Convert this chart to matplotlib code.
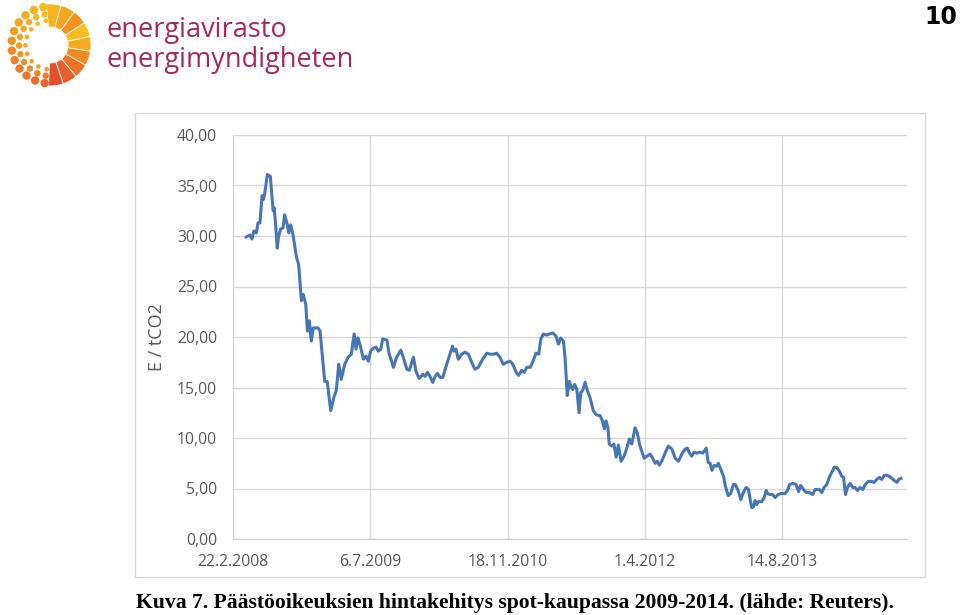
import numpy as np
import pandas as pd
import matplotlib
matplotlib.use("Agg")
from matplotlib import pyplot as plt
from matplotlib.colors import to_rgb
from matplotlib.patches import Wedge, Circle, Rectangle
from matplotlib.ticker import FuncFormatter

# spot price of emission allowances, EUR / tCO2
start_date = "2008-02-22"
day_offset = [
    48, 61, 69, 76, 85, 91, 98, 106, 110, 115, 125, 136, 146, 150, 156, 161, 166, 174,
    182, 188, 197, 203, 210, 218, 231, 239, 249, 256, 265, 271, 278, 285, 292, 310, 317,
    334, 343, 356, 367, 376, 385, 394, 407, 419, 431, 441, 448, 455, 462, 475, 484, 493,
    501, 511, 521, 529, 538, 545, 560, 569, 584, 596, 611, 620, 633, 642, 657, 666, 678,
    691, 699, 708, 717, 727, 736, 744, 754, 764, 778, 790, 799, 805, 812, 820, 833, 845,
    857, 869, 881, 893, 909, 924, 936, 950, 960, 972, 984, 997, 1009, 1019, 1031, 1040,
    1051, 1060, 1070, 1082, 1091, 1103, 1113, 1121, 1130, 1142, 1152, 1164, 1176, 1185,
    1193, 1203, 1209, 1217, 1225, 1231, 1237, 1244, 1252, 1260, 1266, 1273, 1282, 1290,
    1300, 1312, 1322, 1337, 1345, 1352, 1358, 1365, 1370, 1379, 1387, 1395, 1403, 1413,
    1424, 1434, 1443, 1452, 1464, 1472, 1480, 1488, 1497, 1507, 1519, 1528, 1537, 1545,
    1552, 1561, 1573, 1585, 1598, 1610, 1622, 1634, 1646, 1654, 1662, 1670, 1679, 1689,
    1701, 1710, 1723, 1730, 1737, 1744, 1752, 1761, 1767, 1776, 1786, 1793, 1803, 1812,
    1822, 1829, 1839, 1849, 1858, 1868, 1877, 1883, 1889, 1895, 1901, 1907, 1913, 1925,
    1934, 1941, 1947, 1956, 1965, 1974, 1984, 1995, 2010, 2019, 2026, 2038, 2050, 2059,
    2067, 2077, 2087, 2099, 2111, 2119, 2128, 2135, 2144, 2152, 2162, 2171, 2180, 2189,
    2198, 2208, 2217, 2223, 2230, 2237, 2247, 2257, 2265, 2274, 2283, 2293, 2302, 2313,
    2326, 2334, 2344, 2354, 2362, 2371, 2381, 2390, 2399, 2407, 2417, 2424, 2432,
]
price = [
    29.9, 30.1, 29.7, 30.5, 30.3, 31.3, 31.3, 34.0, 33.6, 34.1, 36.1, 35.9, 32.5, 32.8,
    30.8, 28.8, 30.0, 30.7, 30.8, 32.1, 31.2, 30.3, 31.1, 30.2, 27.9, 27.2, 23.6, 24.2,
    23.2, 20.6, 21.6, 19.6, 20.9, 20.9, 20.6, 15.6, 15.6, 12.7, 14.0, 14.7, 17.3, 15.8,
    17.3, 18.0, 18.3, 20.3, 18.8, 19.9, 19.3, 17.8, 18.1, 17.6, 18.6, 18.9, 19.0, 18.6,
    18.8, 19.8, 19.7, 18.3, 17.0, 18.0, 18.7, 18.0, 16.8, 16.7, 18.0, 16.6, 15.9, 16.3,
    16.1, 16.5, 16.1, 15.5, 16.1, 16.4, 16.0, 16.0, 17.3, 18.3, 19.1, 18.6, 18.8, 17.8,
    18.3, 18.5, 18.3, 17.5, 16.8, 17.0, 17.8, 18.4, 18.3, 18.3, 18.4, 18.0, 17.3, 17.5,
    17.6, 17.3, 16.5, 16.2, 16.7, 16.5, 17.0, 17.0, 17.5, 18.4, 18.3, 19.8, 20.3, 20.2,
    20.3, 20.4, 20.1, 19.3, 19.9, 19.6, 18.0, 14.2, 15.6, 15.0, 14.8, 15.3, 14.8, 12.5,
    14.5, 14.7, 15.5, 14.7, 14.0, 12.7, 12.3, 12.2, 11.7, 10.9, 11.7, 11.0, 9.4, 9.2,
    9.4, 8.1, 9.3, 7.7, 8.2, 9.0, 9.9, 9.4, 11.0, 10.5, 9.4, 8.7, 8.0, 8.2, 8.4, 8.0,
    7.5, 7.7, 7.3, 7.7, 8.5, 9.2, 8.9, 8.0, 7.7, 8.4, 8.9, 9.0, 8.5, 8.2, 8.6, 8.5,
    8.6, 8.5, 9.0, 7.6, 7.5, 6.8, 7.3, 7.2, 7.5, 6.9, 6.2, 5.2, 4.3, 4.5, 5.4, 5.4,
    4.8, 3.9, 4.6, 5.1, 4.9, 3.9, 3.1, 3.2, 3.8, 3.4, 3.7, 3.7, 4.1, 4.8, 4.5, 4.4,
    4.4, 4.1, 4.4, 4.5, 4.5, 4.8, 5.4, 5.5, 5.4, 4.7, 5.3, 4.9, 4.6, 4.6, 4.4, 4.9,
    4.9, 4.9, 4.6, 5.1, 5.4, 6.1, 6.6, 7.1, 7.1, 6.7, 6.2, 6.1, 4.4, 5.1, 5.5, 5.1,
    5.1, 4.8, 5.1, 4.9, 5.4, 5.7, 5.7, 5.6, 5.9, 6.1, 5.9, 6.3, 6.3, 6.2, 6.0, 5.8,
    5.6, 5.9, 6.0,
]
tick_step_days = 500
axis_end_days = 2454
y_ticks = [0, 5, 10, 15, 20, 25, 30, 35, 40]

caption = "Kuva 7. Päästöoikeuksien hintakehitys spot-kaupassa 2009-2014. (lähde: Reuters)."
page_no = "10"

W, H = 960, 615
fig = plt.figure(figsize=(W / 100, H / 100), dpi=100)
fig.patch.set_facecolor("white")


def fx(px):
    return px / W


def fy(py):
    return 1 - py / H


# chart area border
fig.add_artist(Rectangle((fx(135), fy(577)), fx(925 - 135), (577 - 113) / H,
                         transform=fig.transFigure, fill=False,
                         edgecolor="#D9D9D9", linewidth=1))

t0 = pd.Timestamp(start_date)
dates = t0 + pd.to_timedelta(day_offset, unit="D")

ax = fig.add_axes([fx(233), fy(539), fx(907 - 233), (539 - 135) / H])
ax.plot(dates, price, color="#4676B3", linewidth=2.2, solid_joinstyle="round")

ax.set_xlim(t0, t0 + pd.Timedelta(days=axis_end_days))
ax.set_ylim(0, 40)
xt = [t0 + pd.Timedelta(days=k * tick_step_days) for k in range(5)]
ax.set_xticks(xt)
ax.set_xticklabels([f"{d.day}.{d.month}.{d.year}" for d in xt])
ax.set_yticks(y_ticks)
ax.yaxis.set_major_formatter(FuncFormatter(lambda v, p: f"{v:.2f}".replace(".", ",")))

ax.grid(True, color="#D9D9D9", linewidth=1)
ax.set_axisbelow(True)
for s in ["top", "right", "left"]:
    ax.spines[s].set_visible(False)
ax.spines["bottom"].set_color("#D0D0D0")
ax.tick_params(length=0, colors="#595959", labelsize=11.3)
ax.tick_params(axis="y", pad=11.5)
ax.tick_params(axis="x", pad=11)
for lab in ax.get_xticklabels() + ax.get_yticklabels():
    lab.set_fontfamily("Open Sans")

fig.text(fx(157), fy(337), "E / tCO2", rotation=90, ha="center", va="center",
         color="#595959", fontsize=13, fontfamily="Open Sans")

# caption and page number
fig.text(fx(515), fy(603), caption, ha="center", va="center", fontsize=15.6,
         fontweight="bold", fontfamily="Liberation Serif", color="black")
fig.text(fx(957), fy(17), page_no, ha="right", va="center", fontsize=17,
         fontweight="bold", fontfamily="DejaVu Sans", color="black")

# logo
lax = fig.add_axes([0, fy(90), fx(95), 90 / H])
lax.set_xlim(0, 95)
lax.set_ylim(90, 0)
lax.axis("off")
cx, cy = 50, 45
# ring segments listed from top to bottom
ring_cols = ["#F7B51B", "#F4A41E", "#F39322", "#F8BE1F", "#F6AC1F",
             "#F08A21", "#EC7325", "#E86029", "#E3502C"]
edges = np.linspace(95, -92, len(ring_cols) + 1)
for i, c in enumerate(ring_cols):
    # y axis is flipped, so angles are mirrored
    lax.add_patch(Wedge((cx, cy), 41, -edges[i], -edges[i + 1], width=23,
                        facecolor=c, edgecolor="white", linewidth=0.6))

yel = np.array(to_rgb("#F7BA1E"))
red = np.array(to_rgb("#E8652A"))
dot_rings = [(38.5, 4.2, 12, 1.0), (31, 3.2, 11, 0.7), (24.5, 2.3, 9, 0.4)]
for r, dr, n, depth in dot_rings:
    for a in np.linspace(100, 262, n):
        frac = depth * (a - 100) / 162
        col = yel + (red - yel) * frac
        lax.add_patch(Circle((cx + r * np.cos(np.radians(a)), cy - r * np.sin(np.radians(a))),
                             dr, facecolor=col, edgecolor="none"))

fig.text(fx(106), fy(37), "energiavirasto", fontsize=19.5, color="#A8275E",
         fontfamily="Open Sans", va="baseline", ha="left")
fig.text(fx(106), fy(67), "energimyndigheten", fontsize=19.5, color="#A8275E",
         fontfamily="Open Sans", va="baseline", ha="left")

fig.savefig("out.png", dpi=100)
